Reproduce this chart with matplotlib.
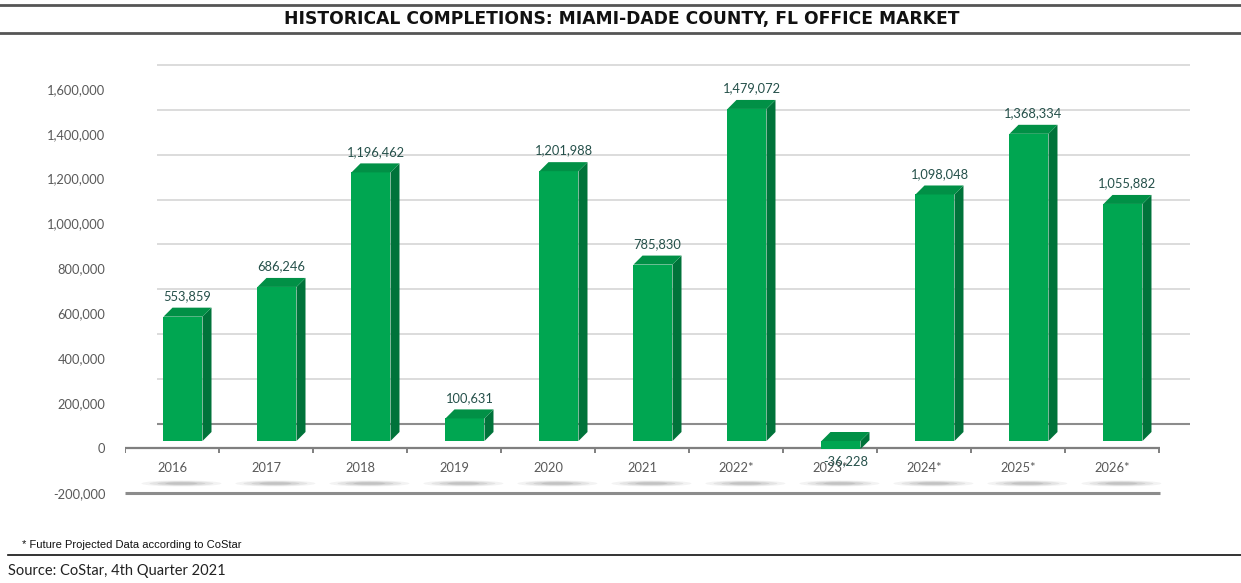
import numpy as np
import matplotlib
matplotlib.use("Agg")
import matplotlib.pyplot as plt
from matplotlib.patches import Polygon, Ellipse
from matplotlib.transforms import ScaledTranslation
from matplotlib.ticker import FuncFormatter

# --------------------------------------------------
# Data
# --------------------------------------------------

years = ["2016", "2017", "2018", "2019", "2020", "2021",
         "2022*", "2023*", "2024*", "2025*", "2026*"]

completions = [553859, 686246, 1196462, 100631, 1201988, 785830,
               1479072, -36228, 1098048, 1368334, 1055882]

y_ticks = [-200000, 0, 200000, 400000, 600000, 800000,
           1000000, 1200000, 1400000, 1600000]

# --------------------------------------------------
# Style
# --------------------------------------------------

FRONT = "#00A651"
SIDE = "#00733A"
TOP = "#019046"
GRID = "#d9d9d9"
TEXT_GRAY = "#595959"
LABEL_COL = "#25504a"

plt.rcParams["font.family"] = ["Lato", "DejaVu Sans"]

fig = plt.figure(figsize=(12.41, 5.83), dpi=100)
W, H = 1241, 583

ax = fig.add_axes([125 / W, (H - 500) / H, 1065 / W, 440 / H])
ax.set_xlim(-0.5, 10.83)
px_y = 44.9 / 200000          # pixels per value unit
y_top = (448 - 60) / px_y
y_bot = -(500 - 448) / px_y
ax.set_ylim(y_bot, y_top)

for s in ax.spines.values():
    s.set_visible(False)

ax.set_yticks(y_ticks)
ax.yaxis.set_major_formatter(FuncFormatter(lambda v, p: f"{int(v):,}"))
ax.tick_params(axis="y", length=0, pad=14, labelsize=9.3, labelcolor=TEXT_GRAY)
ax.set_xticks(range(len(years)))
ax.set_xticklabels([])
ax.tick_params(axis="x", length=0)

px_x = 1065 / (10.83 + 0.5)    # pixels per category

# back wall (offset up/right)
back = ax.transData + ScaledTranslation(32 / 100, 24 / 100, fig.dpi_scale_trans)
x0_back = -0.5
x1_back = 10.83 - 32 / px_x
ax.hlines([t for t in y_ticks if t > 0], x0_back, x1_back,
          colors=GRID, linewidth=1.3, transform=back, zorder=1)
ax.hlines([0], x0_back, x1_back, colors="#8c8c8c", linewidth=1.5,
          transform=back, zorder=1)

# front floor line and bottom line
x_end = 10.83 - 30 / px_x
ax.hlines([0], -0.5, x_end, colors="#7f7f7f", linewidth=1.6, zorder=2)
ax.hlines([-200000], -0.5, x_end, colors="#8c8c8c", linewidth=2.2, zorder=2)
ax.vlines(np.arange(-0.5, 10.6, 1.0), -5.2 / px_y, 0,
          colors="#7f7f7f", linewidth=1.4, zorder=2)

# reflection-like shadows under category labels
for i in range(len(years)):
    for k, a in zip([1.0, 0.8, 0.6, 0.4], [0.10, 0.14, 0.18, 0.22]):
        ax.add_patch(Ellipse((i + 0.1, -158000), 0.85 * k, 6 / px_y * k,
                             facecolor="#8a8a8a", edgecolor="none",
                             alpha=a, zorder=1))

# category labels
for i, yr in enumerate(years):
    ax.text(i, -20 / px_y, yr, ha="center", va="center",
            fontsize=9.3, color=TEXT_GRAY, zorder=3)

# --------------------------------------------------
# 3D-looking bars
# --------------------------------------------------

bar_tr = ax.transData + ScaledTranslation(11 / 100, 7 / 100, fig.dpi_scale_trans)
bw = 39 / px_x
dx = 9 / px_x
dy = 9 / px_y

for i, v in enumerate(completions):
    xl = i - bw / 2
    xr = i + bw / 2
    lo, hi = min(0, v), max(0, v)
    ax.add_patch(Polygon([(xl, lo), (xr, lo), (xr, hi), (xl, hi)],
                         closed=True, facecolor=FRONT, edgecolor="none",
                         transform=bar_tr, zorder=4))
    ax.add_patch(Polygon([(xr, lo), (xr + dx, lo + dy), (xr + dx, hi + dy), (xr, hi)],
                         closed=True, facecolor=SIDE, edgecolor="none",
                         transform=bar_tr, zorder=4))
    ax.add_patch(Polygon([(xl, hi), (xr, hi), (xr + dx, hi + dy), (xl + dx, hi + dy)],
                         closed=True, facecolor=TOP, edgecolor="none",
                         transform=bar_tr, zorder=4))

    if v >= 0:
        ax.annotate(f"{v:,}", (i + dx / 2, hi + dy), xycoords=bar_tr,
                    xytext=(0, 4), textcoords="offset points",
                    ha="center", va="bottom", fontsize=9.3,
                    color=LABEL_COL, zorder=5)
    else:
        ax.annotate(f"{v:,}", (i + dx / 2, lo), xycoords=bar_tr,
                    xytext=(0, -4), textcoords="offset points",
                    ha="center", va="top", fontsize=9.3,
                    color=LABEL_COL, zorder=5)

# --------------------------------------------------
# Title, rules and notes
# --------------------------------------------------

fig.add_artist(plt.Line2D([0, 1], [1 - 5 / H, 1 - 5 / H], color="#555555", linewidth=2))
fig.add_artist(plt.Line2D([0, 1], [1 - 33 / H, 1 - 33 / H], color="#555555", linewidth=2))
fig.text(622 / W, 1 - 19 / H,
         "HISTORICAL COMPLETIONS: MIAMI-DADE COUNTY, FL OFFICE MARKET",
         ha="center", va="center", fontsize=12.3, fontweight="bold",
         family=["Liberation Sans Narrow", "DejaVu Sans"], color="#111111")

fig.text(22 / W, 1 - 545 / H, "* Future Projected Data according to CoStar",
         ha="left", va="center", fontsize=8,
         family=["Liberation Sans", "DejaVu Sans"], color="#111111")
fig.add_artist(plt.Line2D([8 / W, 1], [1 - 555 / H, 1 - 555 / H],
                          color="#111111", linewidth=1.2))
fig.text(8 / W, 1 - 571 / H, "Source: CoStar, 4th Quarter 2021",
         ha="left", va="center", fontsize=10.5,
         family=["Lato", "DejaVu Sans"], color="#222222")

fig.savefig("out.png", dpi=100)
